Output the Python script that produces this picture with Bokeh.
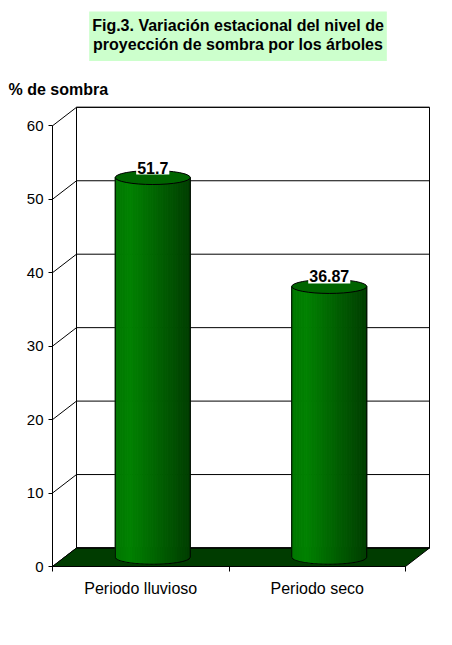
import numpy as np
from bokeh.plotting import figure
from bokeh.models import Range1d, FixedTicker, Label
from bokeh.embed import file_html
from bokeh.resources import INLINE
from bokeh.core.properties import value

# ---------------- data ----------------
categories = ["Periodo lluvioso", "Periodo seco"]
shade = [51.7, 36.87]
shade_labels = ["51.7", "36.87"]
y_ticks = [0, 10, 20, 30, 40, 50, 60]
title_lines = ["Fig.3. Variación estacional del nivel de",
               "proyección de sombra por los árboles"]
y_title = "% de sombra"

# ---------------- layout constants ----------------
W, H = 450, 640
ORIG_X, ORIG_Y = 52, 566                  # canvas position of (0, 0)
PX_X = 176.5                              # pixels per category
PX_Y = 7.345                              # pixels per % unit

def dx(px):   # horizontal pixel distance -> data units
    return px / PX_X

def dy(px):   # vertical pixel distance -> data units
    return px / PX_Y

def cx_(px):  # canvas x -> data
    return (px - ORIG_X) / PX_X

def cy_(py):  # canvas y -> data
    return (ORIG_Y - py) / PX_Y

DX, DY = dx(24), dy(18.5)                 # 3-D depth offset
RW, RH = dx(37.5), dy(7)                  # cylinder radii
n = len(categories)
ymax = y_ticks[-1]
FONT = "Liberation Sans"

p = figure(width=W, height=H, output_backend="svg", toolbar_location=None,
           x_range=Range1d(cx_(0), cx_(W)), y_range=Range1d(cy_(H), cy_(0)),
           min_border=0, title=None)
p.outline_line_color = None
p.xgrid.visible = False
p.ygrid.visible = False
p.background_fill_color = "white"
p.border_fill_color = "white"

# ---- axes (fixed inside the frame) ----
xa = p.xaxis[0]
xa.fixed_location = 0
xa.ticker = FixedTicker(ticks=[i + 0.5 for i in range(n)],
                        minor_ticks=list(range(n + 1)))
xa.major_label_overrides = {i + 0.5: c for i, c in enumerate(categories)}
xa.bounds = (0, n)
xa.major_tick_out = 0
xa.major_tick_in = 0
xa.minor_tick_out = 5
xa.minor_tick_in = 0
xa.minor_tick_line_color = "black"
xa.axis_line_color = "black"
xa.major_label_standoff = 8
xa.major_label_text_font = FONT
xa.major_label_text_font_size = "16px"
xa.major_label_text_color = "black"

ya = p.yaxis[0]
ya.fixed_location = 0
ya.ticker = FixedTicker(ticks=y_ticks, minor_ticks=[])
ya.bounds = (0, ymax)
ya.major_tick_out = 4
ya.major_tick_in = 0
ya.major_tick_line_color = "black"
ya.axis_line_color = "black"
ya.major_label_standoff = 5
ya.major_label_text_font = FONT
ya.major_label_text_font_size = "15px"
ya.major_label_text_color = "black"

# ---- back wall ----
p.quad(left=DX, right=n + DX, bottom=DY, top=ymax + DY,
       fill_color="white", line_color="black", line_width=1)
p.segment(x0=[DX] * len(y_ticks), x1=[n + DX] * len(y_ticks),
          y0=[t + DY for t in y_ticks], y1=[t + DY for t in y_ticks],
          line_color="black", line_width=1)
# side wall diagonals
p.segment(x0=[0] * len(y_ticks), x1=[DX] * len(y_ticks),
          y0=y_ticks, y1=[t + DY for t in y_ticks],
          line_color="black", line_width=1)
# floor
p.patch([0, n, n + DX, DX], [0, 0, DY, DY],
        fill_color="#003c00", line_color="black", line_width=1)
p.segment(x0=[DX], x1=[n + DX], y0=[DY], y1=[DY], line_color="black", line_width=1)

# ---- cylinders ----
NS = 30
strip_xs, strip_ys, strip_cols = [], [], []
out_xs, out_ys = [], []
top_x, top_y = [], []
for i, v in enumerate(shade):
    cx = i + 0.5 + DX / 2
    y0 = DY / 2
    y1 = v + DY / 2
    edges = np.linspace(cx - RW, cx + RW, NS + 1)

    def ybot(x, cx=cx, y0=y0):
        u = np.clip((x - cx) / RW, -1, 1)
        return y0 - RH * np.sqrt(1 - u * u)

    for k in range(NS):
        a, b = edges[k], edges[k + 1]
        t = (k + 0.5) / NS
        if t < 0.2:
            g = 118 + 12 * (t / 0.2)
        else:
            g = 130 - 68 * ((t - 0.2) / 0.8)
        col = "#%02x%02x%02x" % (0, int(g), 0)
        strip_xs.append([a, b, b, a])
        strip_ys.append([y1, y1, float(ybot(b)), float(ybot(a))])
        strip_cols.append(col)
    xs_curve = np.linspace(cx - RW, cx + RW, 60)
    out_xs.append([cx - RW, cx - RW] + list(xs_curve) + [cx + RW, cx + RW])
    out_ys.append([y1, y0] + list(ybot(xs_curve)) + [y0, y1])
    top_x.append(cx)
    top_y.append(y1)

p.patches(strip_xs, strip_ys, fill_color=strip_cols, line_color=strip_cols, line_width=1)
p.multi_line(out_xs, out_ys, line_color="black", line_width=1)
p.ellipse(x=top_x, y=top_y, width=2 * RW, height=2 * RH,
          fill_color="#006400", line_color="black", line_width=1)

# ---- value labels ----
p.text(x=top_x, y=top_y, text=shade_labels, text_align="center",
       text_baseline="middle", y_offset=-10,
       text_font=value(FONT), text_font_size="16px", text_font_style="bold",
       text_color="black", background_fill_color="white", padding=1)

# ---- title & axis title ----
title = Label(x=cx_(237.5), y=cy_(11), x_units="data", y_units="data",
              text="\n".join(title_lines), text_align="center", text_baseline="top",
              text_font=FONT, text_font_size="16px", text_font_style="bold",
              text_line_height=1.15, text_color="black",
              background_fill_color="#ccffcc")
try:
    title.padding = dict(left=3, right=3, top=5, bottom=8)
except Exception:
    try:
        title.padding = 4
    except Exception:
        pass
p.add_layout(title)

ylab = Label(x=cx_(8), y=cy_(89), x_units="data", y_units="data",
             text=y_title, text_align="left", text_baseline="alphabetic",
             text_font=FONT, text_font_size="16px", text_font_style="bold",
             text_color="black")
p.add_layout(ylab)

open("out.html", "w").write(file_html(p, INLINE))
